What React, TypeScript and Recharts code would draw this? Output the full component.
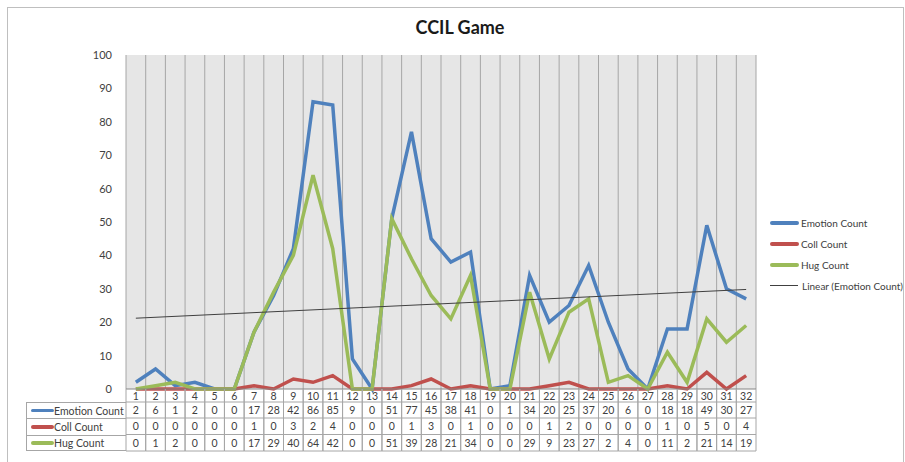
import React from 'react';
import { LineChart, Line, XAxis, YAxis, CartesianGrid } from 'recharts';

const categories = ['1','2','3','4','5','6','7','8','9','10','11','12','13','14','15','16','17','18','19','20','21','22','23','24','25','26','27','28','29','30','31','32'];
const emotion = [2,6,1,2,0,0,17,28,42,86,85,9,0,51,77,45,38,41,0,1,34,20,25,37,20,6,0,18,18,49,30,27];
const coll = [0,0,0,0,0,0,1,0,3,2,4,0,0,0,1,3,0,1,0,0,0,1,2,0,0,0,0,1,0,5,0,4];
const hug = [0,1,2,0,0,0,17,29,40,64,42,0,0,51,39,28,21,34,0,0,29,9,23,27,2,4,0,11,2,21,14,19];
// linear trend of emotion count, ends
const trendEnds = [21.2, 29.8];
const yTicks = [0,10,20,30,40,50,60,70,80,90,100];

const series = [
  { key: 'emotion', name: 'Emotion Count', color: '#4f81bd', values: emotion },
  { key: 'coll', name: 'Coll Count', color: '#c0504d', values: coll },
  { key: 'hug', name: 'Hug Count', color: '#9bbb59', values: hug },
];

const data = categories.map((c, i) => ({
  cat: c,
  emotion: emotion[i],
  coll: coll[i],
  hug: hug[i],
  trend: i === 0 ? trendEnds[0] : i === categories.length - 1 ? trendEnds[1] : null,
}));

const W = 905, H = 462;
const X_H = 73;
const M = { top: 55, right: 149, bottom: 0, left: 0 };
const Y_W = 126;
const PLOT_L = M.left + Y_W;
const PLOT_W = W - M.right - PLOT_L;
const PLOT_B = H - X_H;
const COL_W = PLOT_W / categories.length;
const ROWS = [PLOT_B, 402, 418, 434.5, 451];
const GRID = '#a6a6a6';
const FONT = 'Lato, "Open Sans", sans-serif';

const TableTick = (props: any) => {
  const { x, payload } = props;
  const i = categories.indexOf(String(payload.value));
  const l = x - COL_W / 2;
  const cells = [categories[i], String(emotion[i]), String(coll[i]), String(hug[i])];
  return (
    <g>
      <line x1={l} x2={l} y1={ROWS[0]} y2={ROWS[4]} stroke={GRID} />
      <line x1={l + COL_W} x2={l + COL_W} y1={ROWS[0]} y2={ROWS[4]} stroke={GRID} />
      {ROWS.slice(1).map((r) => (
        <line key={r} x1={l} x2={l + COL_W} y1={r} y2={r} stroke={GRID} />
      ))}
      {cells.map((t, k) => (
        <text key={k} x={x} y={(ROWS[k] + ROWS[k + 1]) / 2 + 4} textAnchor="middle" fontSize={10.5} fill="#404040" fontFamily={FONT}>{t}</text>
      ))}
    </g>
  );
};

export default function App() {
  return (
    <div style={{ position: 'absolute', left: 0, top: 0, width: W, height: H, background: '#fff', fontFamily: FONT, overflow: 'hidden' }}>
      <div style={{ position: 'absolute', left: 7, top: 7, width: 895, height: 460, border: '1px solid #bfbfbf' }} />
      <div style={{ position: 'absolute', left: 0, width: 920, top: 16, textAlign: 'center', fontWeight: 'bold', fontSize: 18, color: '#1a1a1a' }}>CCIL Game</div>
      <LineChart width={W} height={H} data={data} margin={M}>
        <CartesianGrid
          horizontal={false}
          fill="#e6e6e6"
          stroke={GRID}
          verticalCoordinatesGenerator={({ offset }: any) =>
            Array.from({ length: categories.length + 1 }, (_, i) => offset.left + (i * offset.width) / categories.length)
          }
        />
        <YAxis
          width={Y_W}
          domain={[0, 100]}
          ticks={yTicks}
          axisLine={false}
          tickLine={false}
          tickMargin={8}
          tick={{ fontSize: 11, fill: '#404040', fontFamily: FONT }}
        />
        <XAxis
          dataKey="cat"
          height={X_H}
          interval={0}
          padding={{ left: COL_W / 2, right: COL_W / 2 }}
          axisLine={{ stroke: '#868686' }}
          tickLine={false}
          tick={<TableTick />}
        />
        {series.map((s) => (
          <Line key={s.key} type="linear" dataKey={s.key} stroke={s.color} strokeWidth={3.5} dot={false} isAnimationActive={false} />
        ))}
        <Line type="linear" dataKey="trend" stroke="#404040" strokeWidth={1} dot={false} connectNulls isAnimationActive={false} />
      </LineChart>
      {series.map((s, k) => (
        <div key={s.key} style={{ position: 'absolute', left: 26, top: ROWS[k + 1], width: PLOT_L - 26, height: ROWS[k + 2] - ROWS[k + 1], borderLeft: `1px solid ${GRID}`, borderTop: `1px solid ${GRID}`, borderBottom: k === 2 ? `1px solid ${GRID}` : undefined, boxSizing: 'border-box', display: 'flex', alignItems: 'center', fontSize: 10.5, color: '#404040', whiteSpace: 'nowrap' }}>
          <span style={{ display: 'inline-block', width: 23, height: 3.5, background: s.color, marginLeft: 4, borderRadius: 2 }} />
          <span>{s.name}</span>
        </div>
      ))}
      <div style={{ position: 'absolute', left: 770, top: 212, fontSize: 10, color: '#404040', whiteSpace: 'nowrap' }}>
        {series.map((s) => (
          <div key={s.key} style={{ display: 'flex', alignItems: 'center', height: 21 }}>
            <span style={{ display: 'inline-block', width: 29, height: 4, background: s.color, borderRadius: 2, marginRight: 2 }} />
            <span>{s.name}</span>
          </div>
        ))}
        <div style={{ display: 'flex', alignItems: 'center', height: 21 }}>
          <span style={{ display: 'inline-block', width: 28, height: 1, background: '#404040', marginRight: 4 }} />
          <span>Linear (Emotion Count)</span>
        </div>
      </div>
    </div>
  );
}
